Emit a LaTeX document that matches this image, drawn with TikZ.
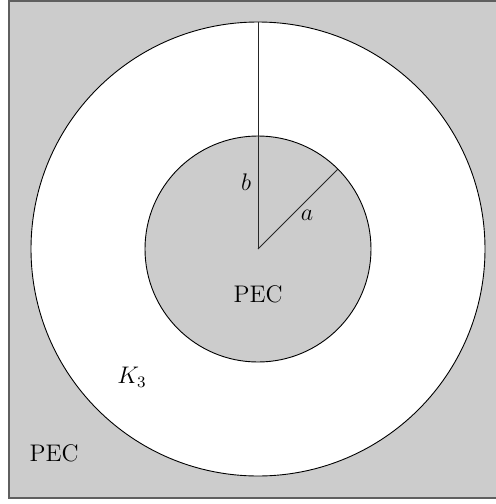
\documentclass[tikz,border=0pt]{standalone}
\usetikzlibrary{calc}
\definecolor{pecgray}{RGB}{204,204,204}
\definecolor{framegray}{RGB}{95,95,95}

\begin{document}
\begin{tikzpicture}[
  x=0.5pt, y=-0.5pt,
  region/.style={draw=black, line width=0.45pt},
  radline/.style={draw=black!85, line width=0.5pt},
  lbl/.style={font=\fontsize{12}{14}\selectfont, inner sep=0pt}
]
  \useasboundingbox (0,0) rectangle (496,504);

  %% outer conductor
  \draw[fill=pecgray, draw=framegray, line width=1pt] (8.5,0.5) rectangle (497,498);

  \coordinate (O) at (258,249);
  \draw[region, fill=white]   (O) circle[radius=227];
  \draw[region, fill=pecgray] (O) circle[radius=113];

  %% radii
  \coordinate (B) at ($(O)+(0,-227)$);
  \coordinate (A) at ($(O)+(80,-80)$);
  \draw[radline] (O) -- (B);
  \draw[radline] (O) -- (A);

  \node[lbl] (lb)   at (246,182) {$b$};
  \node[lbl] (la)   at (307,215) {$a$};
  \node[lbl] (pin)  at (258,294) {PEC};
  \node[lbl] (k3)   at (132,377) {$K_3$};
  \node[lbl] (pout) at (54,453)  {PEC};
\end{tikzpicture}
\end{document}
